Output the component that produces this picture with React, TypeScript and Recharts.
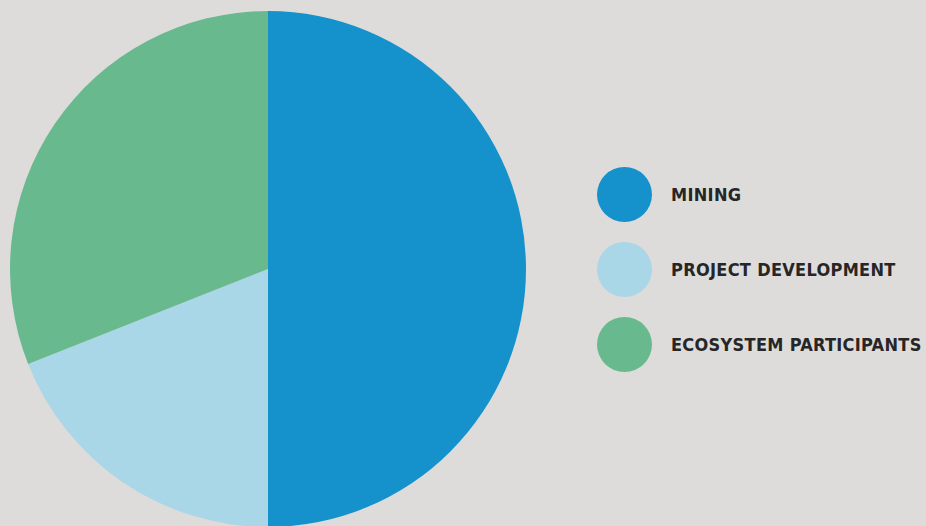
import { Legend, Pie, PieChart, Cell } from "recharts";

const names = ["MINING", "PROJECT DEVELOPMENT", "ECOSYSTEM PARTICIPANTS"];
const shares = [50, 19, 31];
const colors = ["#1591cc", "#a9d7e7", "#69b98e"];

const data = names.map((name, i) => ({ name, value: shares[i] }));

function LegendList() {
  return (
    <div style={{ display: "flex", flexDirection: "column", gap: 20 }}>
      {names.map((n, i) => (
        <div key={n} style={{ display: "flex", alignItems: "center", height: 55, whiteSpace: "nowrap" }}>
          <div
            style={{
              width: 55,
              height: 55,
              flex: "none",
              borderRadius: "50%",
              background: colors[i],
              marginRight: 19,
            }}
          />
          <span
            style={{
              fontFamily: "'DejaVu Sans Condensed', 'DejaVu Sans', sans-serif",
              fontSize: 18,
              fontWeight: 600,
              letterSpacing: 0.3,
              color: "#262626",
            }}
          >
            {n}
          </span>
        </div>
      ))}
    </div>
  );
}

export default function App() {
  return (
    <div style={{ position: "fixed", left: 0, top: 0, width: 926, height: 526, background: "#dddcda" }}>
      <PieChart width={926} height={526} margin={{ top: 0, right: 0, bottom: 0, left: 0 }}>
        <Pie
          data={data}
          dataKey="value"
          nameKey="name"
          cx={268}
          cy={269}
          outerRadius={258}
          startAngle={90}
          endAngle={-270}
          stroke="none"
          isAnimationActive={false}
        >
          {data.map((d, i) => (
            <Cell key={d.name} fill={colors[i]} />
          ))}
        </Pie>
        <Legend
          layout="vertical"
          content={() => <LegendList />}
          wrapperStyle={{ left: 597, top: 167, width: 329 }}
        />
      </PieChart>
    </div>
  );
}
